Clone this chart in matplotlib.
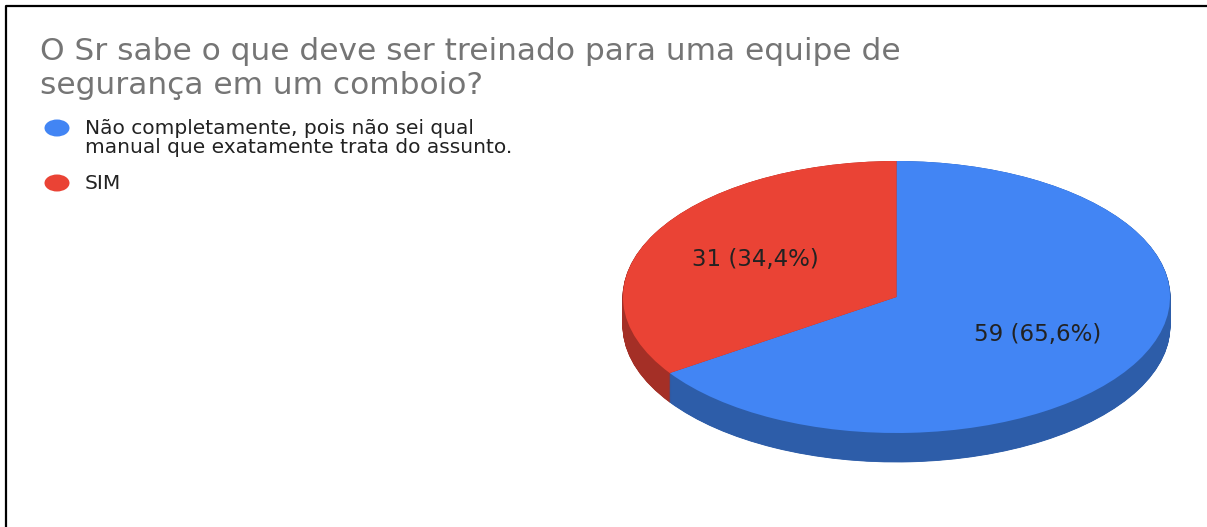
import matplotlib
matplotlib.use("Agg")
import matplotlib.pyplot as plt
from matplotlib.patches import Ellipse
import numpy as np

plt.rcParams['font.family'] = ['DejaVu Sans']

title_lines = ["O Sr sabe o que deve ser treinado para uma equipe de", "segurança em um comboio?"]
categories = [["Não completamente, pois não sei qual", "manual que exatamente trata do assunto."], ["SIM"]]
values = [59, 31]
colors = ["#4285F4", "#EA4335"]
side_colors = ["#2D5DA9", "#A42F26"]

W, H = 1207, 527
fig = plt.figure(figsize=(W / 100, H / 100), dpi=100)

# background axes in pixel coordinates
bg = fig.add_axes([0, 0, 1, 1])
bg.set_xlim(0, W)
bg.set_ylim(H, 0)
bg.axis('off')
bg.plot([6, 6, W], [H, 6, 6], color="black", lw=1.6, solid_capstyle='butt')

for i, line in enumerate(title_lines):
    bg.text(40, 60 + 34 * i, line, fontsize=22.5, color="#757575", va='baseline', ha='left')

leg_y = [128, 183]
for i, (lab, col) in enumerate(zip(categories, colors)):
    bg.add_patch(Ellipse((57, leg_y[i]), 25, 17, color=col, lw=0))
    for j, ln in enumerate(lab):
        bg.text(85, leg_y[i] + 6 + 19 * j, ln, fontsize=14.5, color="#222222", va='baseline', ha='left')

# pseudo-3D pie
ax = fig.add_axes([623 / W, (H - 462) / H, 547 / W, 301 / H])
depth = 29 / 136.0
total = sum(values)
layers = np.linspace(-depth, 0, 60)[:-1]
for off in layers:
    ax.pie(values, colors=side_colors, startangle=90, counterclock=False,
           center=(0, off), wedgeprops=dict(linewidth=0.6), radius=1)
for w in ax.patches:
    w.set_edgecolor(w.get_facecolor())

def fmt(p):
    return f"{round(p * total / 100)} ({p:.1f}%)".replace('.', ',')

wedges, texts, autotexts = ax.pie(values, colors=colors, startangle=90, counterclock=False,
                                  center=(0, 0), autopct=fmt, pctdistance=0.585,
                                  wedgeprops=dict(linewidth=0),
                                  textprops=dict(fontsize=16.5, color="#222222"))
ax.set_aspect('auto')
ax.set_xlim(-1, 1)
ax.set_ylim(-1 - depth, 1)
ax.axis('off')

fig.savefig("out.png", dpi=100)
